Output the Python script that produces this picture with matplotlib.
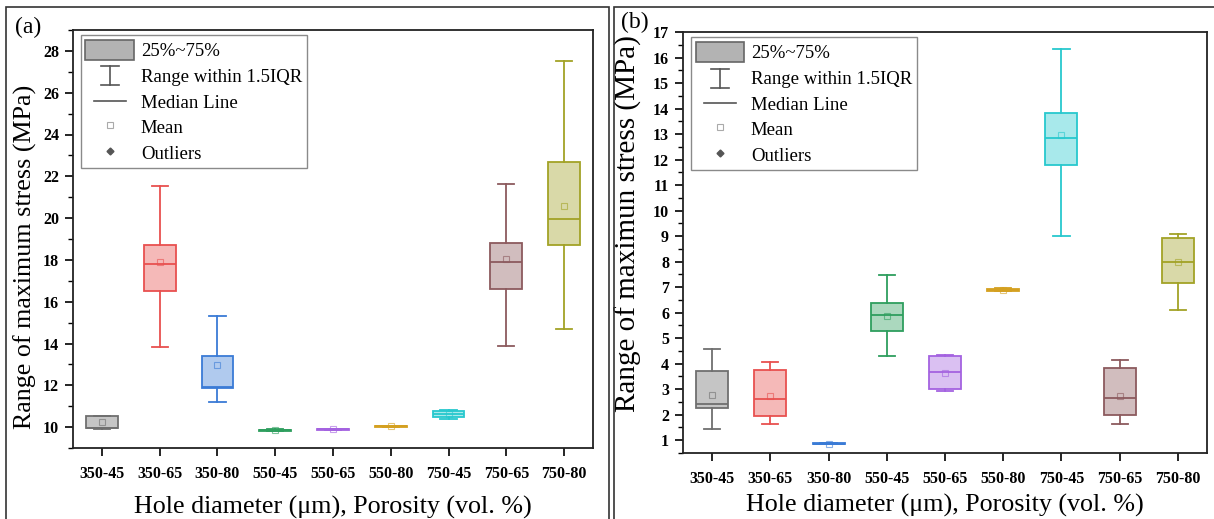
import matplotlib
matplotlib.use("Agg")
import matplotlib.pyplot as plt
from matplotlib.colors import to_rgba
from matplotlib.lines import Line2D
from matplotlib.patches import Patch, Rectangle
from matplotlib.legend_handler import HandlerBase
from matplotlib.ticker import MultipleLocator

# ---- data ----
groups = ["350-45", "350-65", "350-80", "550-45", "550-65",
          "550-80", "750-45", "750-65", "750-80"]
colors = ["#6f6f6f", "#e8504f", "#3a7bd6", "#2e9e5e", "#a462e0",
          "#d4a020", "#27c8ce", "#8c5a5e", "#a2a226"]

# panel (a)
a_lo = [9.90, 13.82, 11.20, 9.82, 9.87, 10.00, 10.38, 13.90, 14.70]
a_q1 = [9.94, 16.49, 11.85, 9.83, 9.88, 10.01, 10.50, 16.60, 18.69]
a_med = [9.97, 17.79, 11.90, 9.85, 9.90, 10.03, 10.64, 17.90, 19.98]
a_q3 = [10.53, 18.70, 13.40, 9.88, 9.92, 10.05, 10.76, 18.83, 22.68]
a_hi = [10.53, 21.53, 15.32, 9.89, 9.93, 10.06, 10.82, 21.64, 27.50]
a_mean = [10.23, 17.90, 12.98, 9.86, 9.90, 10.03, 10.64, 18.02, 20.56]

# panel (b)
b_lo = [1.43, 1.64, 0.85, 4.31, 2.94, 6.83, 8.99, 1.64, 6.10]
b_q1 = [2.25, 1.96, 0.86, 5.30, 3.02, 6.85, 11.77, 1.97, 7.18]
b_med = [2.42, 2.62, 0.87, 5.92, 3.66, 6.88, 12.85, 2.65, 7.97]
b_q3 = [3.73, 3.76, 0.88, 6.39, 4.30, 6.92, 13.82, 3.82, 8.93]
b_hi = [4.58, 4.07, 0.89, 7.49, 4.33, 6.95, 16.35, 4.14, 9.10]
b_mean = [2.77, 2.73, 0.87, 5.88, 3.62, 6.88, 12.95, 2.74, 7.99]

FONT = ["Liberation Serif", "DejaVu Serif"]
plt.rcParams.update({"font.family": FONT, "font.size": 13})


class HandlerShortLine(HandlerBase):
    """Short horizontal line, or an I-shaped whisker symbol."""

    def __init__(self, whisker=False):
        super().__init__()
        self.whisker = whisker

    def create_artists(self, legend, orig, xd, yd, w, h, fs, trans):
        cx = xd + w / 2
        c = "#555555"
        if not self.whisker:
            return [Line2D([cx - w * 0.33, cx + w * 0.33], [h / 2 - yd] * 2,
                           color=c, lw=1.2, transform=trans)]
        top, bot = h * 0.95 - yd, h * 0.02 - yd
        cw = w * 0.18
        return [Line2D([cx, cx], [bot, top], color=c, lw=1.2, transform=trans),
                Line2D([cx - cw, cx + cw], [top, top], color=c, lw=1.2, transform=trans),
                Line2D([cx - cw, cx + cw], [bot, bot], color=c, lw=1.2, transform=trans)]


def panel(ax, lo, q1, med, q3, hi, mean, ylim, major, minor, ylabel, ysize, xpad):
    stats = []
    for i in range(len(groups)):
        stats.append(dict(whislo=lo[i], q1=q1[i], med=med[i], q3=q3[i],
                          whishi=hi[i], mean=mean[i], fliers=[]))
    pos = list(range(1, len(groups) + 1))
    bp = ax.bxp(stats, positions=pos, widths=0.55, patch_artist=True,
                showmeans=True, capwidths=0.28)
    for i, c in enumerate(colors):
        bp["boxes"][i].set(facecolor=to_rgba(c, 0.4), edgecolor=c, lw=1.3)
        bp["medians"][i].set(color=c, lw=1.3)
        for k in (2 * i, 2 * i + 1):
            bp["whiskers"][k].set(color=c, lw=1.3)
            bp["caps"][k].set(color=c, lw=1.3)
        bp["means"][i].set(marker="s", markersize=5, markerfacecolor="none",
                           markeredgecolor=to_rgba(c, 0.6), markeredgewidth=0.8)

    ax.set_xlim(0.5, 9.5)
    ax.set_ylim(*ylim)
    ax.set_xticks(pos)
    ax.set_xticklabels(groups, fontweight="bold", fontsize=11.5)
    ax.yaxis.set_major_locator(MultipleLocator(major))
    ax.yaxis.set_minor_locator(MultipleLocator(minor))
    for lab in ax.get_yticklabels():
        lab.set_fontweight("bold")
        lab.set_fontsize(11.5)
    ax.tick_params(axis="both", which="major", direction="out", length=6,
                   width=1.2, pad=4)
    ax.tick_params(axis="y", which="minor", direction="out", length=3.5, width=1.0)
    ax.tick_params(axis="x", which="major", pad=7)
    for s in ax.spines.values():
        s.set_linewidth(1.3)
        s.set_color("#222222")
    ax.set_xlabel("Hole diameter (\u03bcm), Porosity (vol. %)", fontsize=18.7,
                  labelpad=xpad)
    ax.set_ylabel(ylabel, fontsize=ysize)

    handles = [Patch(facecolor="#b3b3b3", edgecolor="#666666", lw=1.2),
               Line2D([], []), Line2D([], []),
               Line2D([], [], ls="none", marker="s", markersize=4,
                      markerfacecolor="white", markeredgecolor="#aaaaaa", mew=0.8),
               Line2D([], [], ls="none", marker="D", markersize=3.5,
                      color="#555555")]
    labels = ["25%~75%", "Range within 1.5IQR", "Median Line", "Mean", "Outliers"]
    leg = ax.legend(handles, labels, loc="upper left",
                    bbox_to_anchor=(0.015, 0.988), borderaxespad=0,
                    handlelength=2.6, handleheight=1.3, handletextpad=0.35,
                    labelspacing=0.28, borderpad=0.25, fancybox=False,
                    framealpha=1, edgecolor="#8a8a8a", fontsize=13.5,
                    handler_map={handles[1]: HandlerShortLine(True),
                                 handles[2]: HandlerShortLine(False)})
    leg.get_frame().set_linewidth(1.0)


fig = plt.figure(figsize=(12.14, 5.19), dpi=100)
W, H = 1214, 519

# panel frames
for x0, x1 in ((6, 609), (614, 1222)):
    fig.patches.append(Rectangle((x0 / W, -0.05), (x1 - x0) / W, 1.05 - 7 / H,
                                 transform=fig.transFigure, fill=False,
                                 edgecolor="#333333", lw=1.2))

ax1 = fig.add_axes([73 / W, (H - 448) / H, 520 / W, 418 / H])
ax2 = fig.add_axes([683 / W, (H - 453) / H, 524 / W, 421 / H])

panel(ax1, a_lo, a_q1, a_med, a_q3, a_hi, a_mean, (9, 29), 2, 1,
      "Range of maximum stress (MPa)", 18.7, 10)
panel(ax2, b_lo, b_q1, b_med, b_q3, b_hi, b_mean, (0.5, 17), 1, 0.5,
      "Range of maximun stress (MPa)", 21, 5)
ax1.yaxis.set_label_coords(-0.069, 0.457)
ax2.yaxis.set_label_coords(-0.078, 0.544)

fig.text(15 / W, 1 - 27 / H, "(a)", fontsize=17, va="center", ha="left")
fig.text(621 / W, 1 - 22 / H, "(b)", fontsize=17, va="center", ha="left")

fig.savefig("out.png", dpi=100)
